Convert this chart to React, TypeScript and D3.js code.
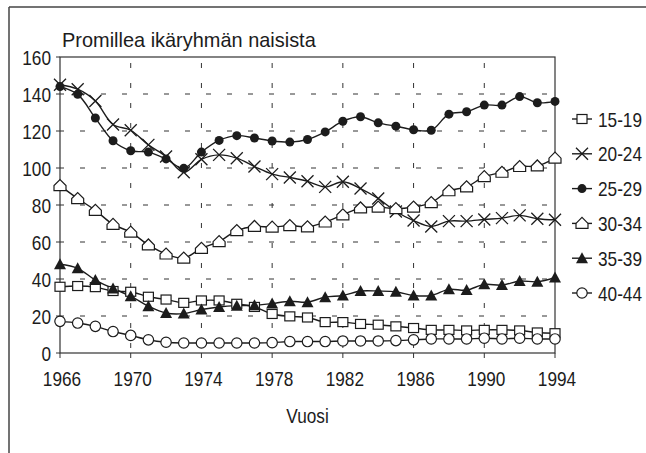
import * as d3 from 'd3';

const years = d3.range(1966, 1995);
const yTicks = [0, 20, 40, 60, 80, 100, 120, 140, 160];
const xTicks = [1966, 1970, 1974, 1978, 1982, 1986, 1990, 1994];

const age1519 = [35.8, 36.2, 35.6, 33.5, 33.1, 30.4, 28.9, 27.1, 28.4, 28.4, 26.6, 24.9, 21.1, 19.8, 19.2, 16.7, 16.7, 15.7, 15.3, 14.4, 13.5, 12.5, 12.5, 12.2, 12.5, 12.5, 12.2, 11.1, 10.7];
const age2024 = [145, 142.6, 136.2, 123.5, 120.4, 112.5, 106.2, 97.7, 104.7, 107.1, 105.3, 100.8, 96.7, 94.9, 92.8, 89.8, 92.6, 88.9, 83.5, 76.5, 71.6, 68.4, 71.3, 71.3, 72.2, 72.9, 74.4, 72.6, 72];
const age2529 = [144, 139.8, 127, 114.7, 109.3, 108.6, 104.9, 99.8, 108.6, 114.9, 117.5, 116.2, 114.6, 114, 115.4, 119.5, 125.3, 127.7, 124.4, 122.6, 120.7, 120.4, 129.1, 130.4, 134, 134, 138.6, 135.3, 136];
const age3034 = [90.5, 83.5, 77.1, 69.5, 65.3, 58.4, 53.5, 51.3, 56.6, 60.2, 66.2, 68.4, 68, 68.9, 68.2, 70.8, 74.7, 78.4, 78.9, 78, 78.9, 81.3, 87.7, 89.8, 95.3, 97.7, 100.8, 101.1, 105.3];
const age3539 = [48, 45.8, 39.4, 34.9, 30.7, 25.3, 21.6, 21.3, 23.5, 24.9, 25.6, 25.8, 26.7, 28, 27.5, 30.2, 31.1, 33.5, 33.5, 33.1, 31.1, 31.1, 34.4, 34, 37.1, 36.7, 38.9, 38.5, 40.8];
const age4044 = [17.1, 16.2, 14.4, 11.6, 9.5, 7.1, 5.8, 5.4, 5.4, 5.4, 5.4, 5.4, 5.6, 6.2, 6.2, 6.2, 6.5, 6.5, 6.5, 6.7, 7.1, 7.6, 7.6, 7.6, 8, 7.6, 8, 7.6, 7.6];

const seriesNames = ['15-19', '20-24', '25-29', '30-34', '35-39', '40-44'];
const seriesValues = [age1519, age2024, age2529, age3034, age3539, age4044];
const seriesMarkers = ['square', 'cross', 'dot', 'house', 'triangle', 'circle'];

const font = "'Liberation Sans', Arial, sans-serif";
const ink = '#1c1c1c';

// narrow look: Arial metrics squeezed horizontally
function Label({ x, y, anchor = 'start', sx = 0.82, children }: { x: number; y: number; anchor?: string; sx?: number; children: any }) {
  return (
    <text transform={`translate(${x},${y}) scale(${sx},1)`} textAnchor={anchor} fontSize={21} fill={ink}>
      {children}
    </text>
  );
}

function Marker({ kind, x, y }: { kind: string; x: number; y: number }) {
  const t = `translate(${x},${y})`;
  switch (kind) {
    case 'square':
      return <rect transform={t} x={-5} y={-4.5} width={10} height={9} fill="#fff" stroke={ink} strokeWidth={1.2} />;
    case 'cross':
      return <path transform={t} d="M-6,-6L6,6M-6,6L6,-6" stroke={ink} strokeWidth={1.3} fill="none" />;
    case 'dot':
      return <circle transform={t} r={4.5} fill={ink} />;
    case 'house':
      return <path transform={t} d="M-6,5L6,5L6,0L0,-6L-6,0Z" fill="#fff" stroke={ink} strokeWidth={1.2} />;
    case 'triangle':
      return <path transform={t} d="M0,-6L6,5L-6,5Z" fill={ink} />;
    default:
      return <circle transform={t} r={5.2} fill="#fff" stroke={ink} strokeWidth={1.2} />;
  }
}

export default function App() {
  const width = 646;
  const height = 453;
  const plot = { left: 60, right: 555, top: 57, bottom: 353 };

  const x = d3.scaleLinear().domain([1966, 1994]).range([plot.left, plot.right]);
  const y = d3.scaleLinear().domain([0, 160]).range([plot.bottom, plot.top]);

  const line = d3
    .line<number>()
    .x((_, i) => x(years[i]))
    .y((d) => y(d))
    .curve(d3.curveCatmullRom.alpha(0.5));

  const legendX = 572;
  const legendY = d3.scalePoint<string>().domain(seriesNames).range([119, 293]);

  return (
    <div style={{ position: 'fixed', left: 0, top: 0 }}>
      <svg width={width} height={height} style={{ display: 'block', background: '#fff' }} fontFamily={font}>
        {/* page frame */}
        <line x1={9} y1={7} x2={width} y2={7} stroke="#444" strokeWidth={1.5} />
        <line x1={9} y1={7} x2={9} y2={height} stroke="#444" strokeWidth={1.5} />

        <Label x={62} y={47} sx={0.95}>Promillea ikäryhmän naisista</Label>

        {/* grid */}
        {yTicks.slice(1, -1).map((t) => (
          <line key={`gy${t}`} x1={plot.left} x2={plot.right} y1={y(t)} y2={y(t)} stroke="#333" strokeWidth={1} strokeDasharray="5,16" strokeDashoffset={-20} />
        ))}
        {xTicks.slice(1, -1).map((t) => (
          <line key={`gx${t}`} x1={x(t)} x2={x(t)} y1={plot.top} y2={plot.bottom} stroke="#333" strokeWidth={1} strokeDasharray="5,15" strokeDashoffset={-6} />
        ))}

        {/* plot frame */}
        <rect x={plot.left} y={plot.top} width={plot.right - plot.left} height={plot.bottom - plot.top} fill="none" stroke="#333" strokeWidth={1.2} />

        {/* axes ticks + labels */}
        {yTicks.map((t) => (
          <g key={`ty${t}`}>
            <line x1={plot.left - 4} x2={plot.left} y1={y(t)} y2={y(t)} stroke="#333" />
            <Label x={51} y={y(t) + 7.5} anchor="end">{t}</Label>
          </g>
        ))}
        {xTicks.map((t) => (
          <g key={`tx${t}`}>
            <line x1={x(t)} x2={x(t)} y1={plot.bottom} y2={plot.bottom + 5} stroke="#333" />
            <Label x={x(t) + 2} y={386} anchor="middle">{t}</Label>
          </g>
        ))}
        <Label x={(plot.left + plot.right) / 2} y={423} anchor="middle">Vuosi</Label>

        {/* series */}
        {seriesValues.map((vals, s) => (
          <path key={`l${s}`} d={line(vals) || ''} fill="none" stroke={ink} strokeWidth={1.4} />
        ))}
        {seriesValues.map((vals, s) => (
          <g key={`m${s}`}>
            {vals.map((v, i) => (
              <Marker key={i} kind={seriesMarkers[s]} x={x(years[i])} y={y(v)} />
            ))}
          </g>
        ))}

        {/* legend */}
        {seriesNames.map((name, s) => {
          const ly = legendY(name) || 0;
          return (
            <g key={`lg${name}`}>
              <line x1={legendX} x2={legendX + 20} y1={ly} y2={ly} stroke={ink} strokeWidth={1.4} />
              <Marker kind={seriesMarkers[s]} x={legendX + 10} y={ly} />
              <Label x={legendX + 26} y={ly + 7.5}>{name}</Label>
            </g>
          );
        })}
      </svg>
    </div>
  );
}
